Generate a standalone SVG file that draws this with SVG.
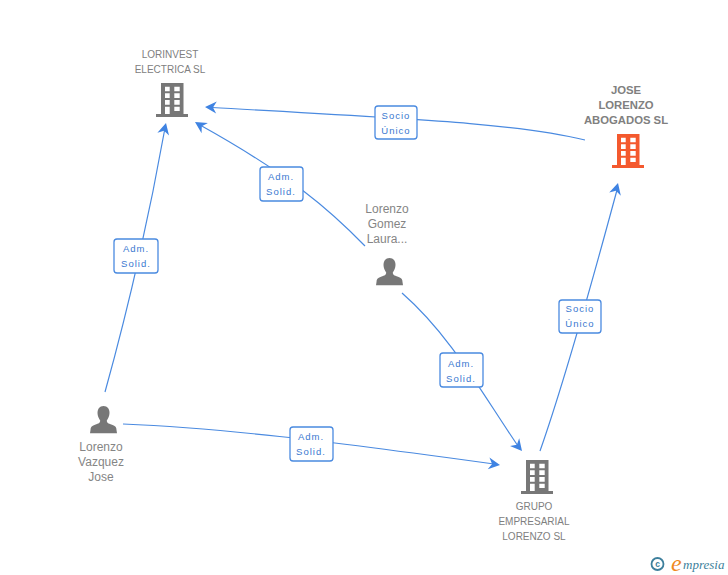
<svg xmlns="http://www.w3.org/2000/svg" width="728" height="575" viewBox="0 0 728 575">
<style>
text{font-family:"Liberation Sans",Arial,sans-serif}
.n{font-size:10px;fill:#808080;text-anchor:middle}
.p{font-size:12px;fill:#858585;text-anchor:middle}
.j{font-size:11.3px;font-weight:bold;fill:#808080;text-anchor:middle}
.e{fill:none;stroke:#4a8ae0;stroke-width:1.2}
.a{fill:#3f83e2}
.b{fill:#fff;stroke:#4a8ae0;stroke-width:1.3}
.l{font-size:9.5px;fill:#3a78d0;text-anchor:middle;letter-spacing:1px}
</style>
<defs>
<g id="bld">
<path d="M0 31H5V0H27.5V31H32V34H0Z M9 3.7V8.3H13.7V3.7Z M18.3 3.7V8.3H23.7V3.7Z M9 10.3V15H13.7V10.3Z M18.3 10.3V15H23.7V10.3Z M9 17V21.7H13.7V17Z M18.3 17V21.700H23.7V17Z M9 23.7V31H13.7V23.7Z M18.3 23.7V28H23.7V23.7Z" fill-rule="evenodd"/>
</g>
<g id="per">
<path d="M13.5 0C9.5 0 7.5 3 7.5 7C7.5 10 9 13 10.2 14.5C10.2 16.5 9 17.5 5 18.8C1.5 20 .5 21.5 .5 24L0 27.3H27L26.500 24C26.500 21.500 25.500 20 22 18.800C18 17.500 16.800 16.500 16.800 14.500C18 13 19.500 10 19.500 7C19.500 3 17.500 0 13.500 0Z"/>
</g>
<path id="ah" d="M0 0L-11.500 -6L-8 0L-11.500 6Z"/>
</defs>
<g id="connectors">
<path class="e" d="M585 140C520 124 430 120 212 107.500"/>
<use href="#ah" class="a" transform="translate(205 107) rotate(183)"/>
<path class="e" d="M365 246C330 210 290 175 200 125"/>
<use href="#ah" class="a" transform="translate(195 122) rotate(212)"/>
<path class="e" d="M105 392C125 320 145 240 165 128"/>
<use href="#ah" class="a" transform="translate(166 123) rotate(-76)"/>
<path class="e" d="M123 424C220 428 320 440 494 464"/>
<use href="#ah" class="a" transform="translate(500 465) rotate(8)"/>
<path class="e" d="M402 293C450 335 480 390 518 446"/>
<use href="#ah" class="a" transform="translate(522 451) rotate(50)"/>
<path class="e" d="M540 451C565 380 590 290 617 190"/>
<use href="#ah" class="a" transform="translate(618 183) rotate(-75)"/>
</g>
<g id="node-lorinvest">
<text class="n" x="170" y="58">LORINVEST</text>
<text class="n" x="170" y="73">ELECTRICA SL</text>
<use href="#bld" x="156" y="83" fill="#777"/>
</g>
<g id="node-jose">
<text class="j" x="626" y="94">JOSE</text>
<text class="j" x="626" y="109">LORENZO</text>
<text class="j" x="626" y="124">ABOGADOS SL</text>
<use href="#bld" x="612" y="134" fill="#f4592e"/>
</g>
<g id="node-gomez">
<text class="p" x="387" y="213">Lorenzo</text>
<text class="p" x="387" y="228">Gomez</text>
<text class="p" x="387" y="243">Laura...</text>
<use href="#per" x="376" y="258" fill="#777"/>
</g>
<g id="node-vazquez">
<text class="p" x="101" y="451">Lorenzo</text>
<text class="p" x="101" y="466">Vazquez</text>
<text class="p" x="101" y="481">Jose</text>
<use href="#per" x="90" y="406" fill="#777"/>
</g>
<g id="node-grupo">
<use href="#bld" x="521" y="460" fill="#777"/>
<text class="n" x="534" y="510">GRUPO</text>
<text class="n" x="534" y="525">EMPRESARIAL</text>
<text class="n" x="534" y="540">LORENZO SL</text>
</g>
<g id="labels">
<rect class="b" x="375" y="106" width="42" height="33" rx="3"/>
<text class="l" x="396" y="119">Socio</text><text class="l" x="396" y="134">Único</text>
<rect class="b" x="260" y="167" width="43" height="34" rx="3"/>
<text class="l" x="281" y="180">Adm.</text><text class="l" x="281" y="195">Solid.</text>
<rect class="b" x="114" y="239" width="44" height="34" rx="3"/>
<text class="l" x="136" y="252">Adm.</text><text class="l" x="136" y="267">Solid.</text>
<rect class="b" x="290" y="427" width="43" height="34" rx="3"/>
<text class="l" x="311" y="440">Adm.</text><text class="l" x="311" y="455">Solid.</text>
<rect class="b" x="440" y="353" width="43" height="34" rx="3"/>
<text class="l" x="461" y="367">Adm.</text><text class="l" x="461" y="382">Solid.</text>
<rect class="b" x="559" y="300" width="42" height="33" rx="3"/>
<text class="l" x="580" y="312">Socio</text><text class="l" x="580" y="327">Único</text>
</g>
<g id="logo">
<circle cx="657.500" cy="564" r="6" fill="none" stroke="#3d7f9c" stroke-width="1.800"/>
<text x="657.500" y="567" font-size="8.500" font-weight="bold" fill="#3d7f9c" text-anchor="middle">c</text>
<text x="671" y="571" style="font-family:'Liberation Serif',serif" font-size="24" font-style="italic" fill="#f08a1d">e</text>
<text x="683" y="569" style="font-family:'Liberation Serif',serif" font-size="13" font-style="italic" fill="#3d7f9c">mpresia</text>
</g>
</svg>
